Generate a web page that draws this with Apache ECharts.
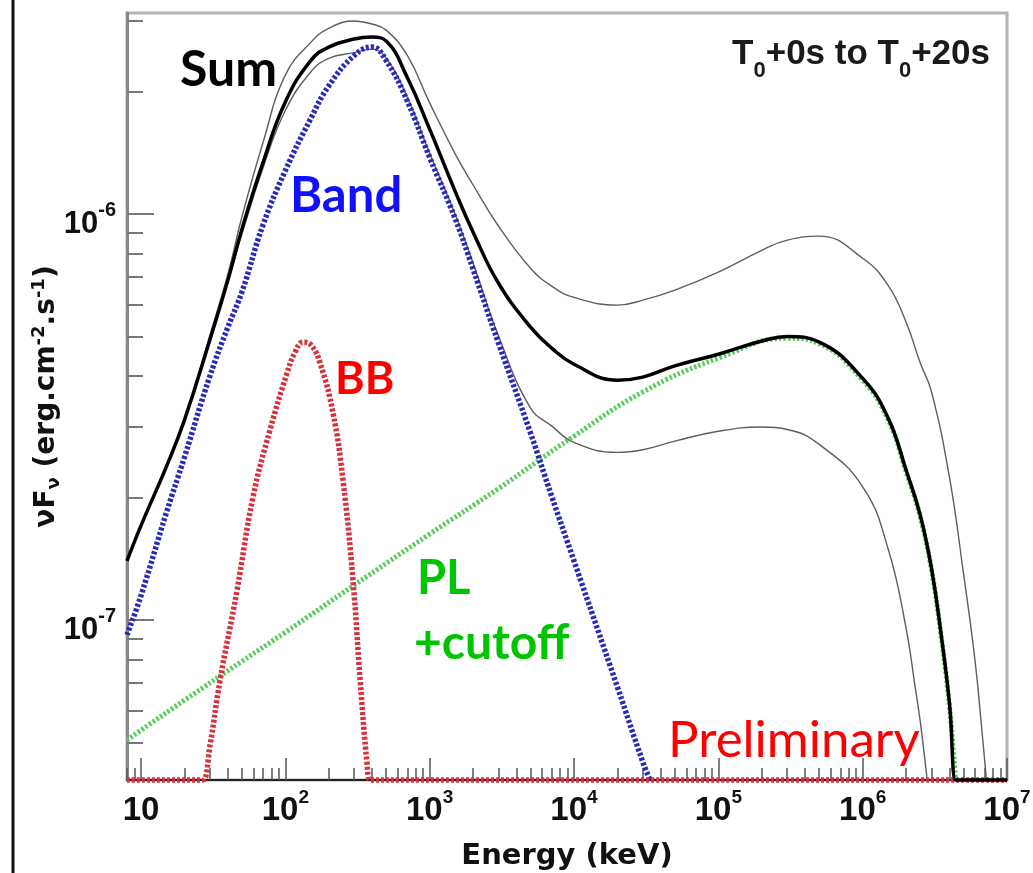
<!DOCTYPE html>
<html>
<head>
<meta charset="utf-8">
<title>Spectrum T0+0s to T0+20s</title>
<script src="https://cdn.jsdelivr.net/npm/echarts@6.0.0/dist/echarts.min.js"></script>
<style>
  html, body { margin: 0; padding: 0; background: #fff; }
  #chart { width: 1033px; height: 873px; }
</style>
</head>
<body>
<div id="chart"></div>
<script>
// axis range (keV / erg cm-2 s-1)
var X_MIN = 8;
var X_MAX = 1e7;
var FLOOR = 4.04e-8;   // bottom of the y axis, curves below it sit on the axis
var Y_MAX = 3.13e-6;

var xMajor = [10, 1e2, 1e3, 1e4, 1e5, 1e6, 1e7];
var yMajor = [1e-7, 1e-6];
var minorSteps = [2, 3, 4, 5, 6, 7, 8, 9];
var xDecades = [1, 10, 1e2, 1e3, 1e4, 1e5, 1e6];
var yDecades = [1e-8, 1e-7, 1e-6];

// total model (thick black)
var sumE = [8, 10, 15, 20, 30, 40, 50, 70, 100, 150, 200, 300, 400, 500, 700,
  1000, 1500, 2000, 3000, 5000, 7000, 1e4, 2e4, 3e4, 5e4, 1e5, 2e5, 3e5, 5e5,
  1e6, 1.5e6, 2e6, 2.5e6, 3e6, 3.5e6, 4e6, 4.4e6, 4.6e6, 1e7];
var sumF = [1.40e-7, 1.71e-7, 2.39e-7, 3.11e-7, 4.90e-7, 6.88e-7, 9.18e-7, 1.34e-6,
  1.89e-6, 2.39e-6, 2.58e-6, 2.70e-6, 2.73e-6, 2.67e-6, 2.17e-6,
  1.62e-6, 1.14e-6, 9.03e-7, 6.76e-7, 5.27e-7, 4.68e-7, 4.27e-7, 3.90e-7, 3.97e-7, 4.23e-7,
  4.52e-7, 4.87e-7, 5.00e-7, 4.84e-7,
  3.94e-7, 3.15e-7, 2.34e-7, 1.82e-7, 1.34e-7, 9.2e-8, 6.2e-8, FLOOR, FLOOR, FLOOR];

// upper and lower envelope (thin)
var upperE = [8, 10, 15, 20, 30, 40, 50, 70, 100, 150, 200, 300, 400, 500, 700,
  1000, 1500, 2000, 3000, 5000, 7000, 1e4, 2e4, 3e4, 5e4, 1e5, 2e5, 3e5, 5e5,
  1e6, 1.5e6, 2e6, 2.5e6, 3e6, 4e6, 5e6, 6e6, 6.8e6, 7.2e6];
var upperF = [1.40e-7, 1.71e-7, 2.39e-7, 3.11e-7, 5.03e-7, 7.12e-7, 9.84e-7, 1.50e-6,
  2.20e-6, 2.65e-6, 2.87e-6, 2.99e-6, 2.94e-6, 2.84e-6, 2.46e-6,
  1.88e-6, 1.41e-6, 1.18e-6, 9.34e-7, 7.36e-7, 6.65e-7, 6.24e-7, 5.97e-7, 6.14e-7, 6.50e-7,
  7.20e-7, 8.15e-7, 8.63e-7, 8.83e-7,
  7.79e-7, 6.68e-7, 5.42e-7, 4.31e-7, 3.65e-7, 2.24e-7, 1.30e-7, 7.97e-8, 5.06e-8, FLOOR];

var lowerE = [8, 10, 15, 20, 30, 40, 50, 70, 100, 150, 200, 300, 400, 500, 700,
  1000, 1500, 2000, 3000, 5000, 7000, 1e4, 2e4, 3e4, 5e4, 1e5, 2e5, 3e5, 5e5,
  1e6, 1.5e6, 2e6, 2.3e6, 2.5e6, 2.65e6, 2.8e6];
var lowerF = [1.40e-7, 1.71e-7, 2.39e-7, 3.11e-7, 4.88e-7, 6.80e-7, 8.93e-7, 1.30e-6,
  1.80e-6, 2.24e-6, 2.42e-6, 2.50e-6, 2.55e-6, 2.42e-6, 1.94e-6,
  1.41e-6, 1.00e-6, 7.57e-7, 5.01e-7, 3.33e-7, 3.01e-7, 2.74e-7, 2.59e-7, 2.63e-7, 2.76e-7,
  2.92e-7, 2.99e-7, 2.95e-7, 2.71e-7,
  2.13e-7, 1.50e-7, 9.55e-8, 6.92e-8, 5.67e-8, 4.79e-8, FLOOR];

// Band component (blue dotted)
var bandE = [8, 10, 15, 20, 30, 40, 50, 70, 100, 150, 200, 300, 400, 500, 700,
  1000, 1500, 2000, 3000, 5000, 7000, 1e4, 2e4, 3e4, 3.37e4];
var bandF = [9.2e-8, 1.15e-7, 1.84e-7, 2.52e-7, 3.99e-7, 5.27e-7, 6.43e-7, 9.4e-7,
  1.28e-6, 1.72e-6, 2.07e-6, 2.46e-6, 2.58e-6, 2.39e-6, 1.90e-6,
  1.38e-6, 9.77e-7, 7.32e-7, 4.81e-7, 2.89e-7, 2.02e-7, 1.40e-7, 6.84e-8, 4.47e-8, FLOOR];

// black body (red dotted)
var bbE = [8, 25, 26.9, 30.1, 35.3, 46.2, 59.7, 78.3, 102.8, 116.7, 132.8, 150.7,
  174, 214, 251, 294, 330, 368, 386, 410, 1e7];
var bbF = [FLOOR, FLOOR, FLOOR, 4.92e-8, 7.11e-8, 1.18e-7, 2.01e-7, 2.94e-7, 4.06e-7,
  4.57e-7, 4.84e-7, 4.76e-7, 4.30e-7, 3.24e-7, 2.21e-7, 1.26e-7, 7.11e-8, 4.45e-8,
  FLOOR, FLOOR, FLOOR];

// power law with cutoff (green dotted)
var plE = [8, 10, 20, 50, 100, 300, 1000, 3000, 1e4, 3e4, 1e5, 3e5, 5e5,
  1e6, 1.5e6, 2e6, 2.5e6, 3e6, 3.5e6, 4e6, 4.4e6];
var plF = [5.06e-8, 5.36e-8, 6.35e-8, 7.92e-8, 9.34e-8, 1.22e-7, 1.63e-7, 2.11e-7,
  2.84e-7, 3.65e-7, 4.42e-7, 4.95e-7, 4.80e-7,
  3.90e-7, 3.12e-7, 2.32e-7, 1.80e-7, 1.33e-7, 9.1e-8, 6.1e-8, FLOOR];

function pairs(xs, ys) {
  return xs.map(function (x, i) { return [x, ys[i]]; });
}

function minorTicks(decades, lo, hi) {
  var out = [];
  decades.forEach(function (d) {
    minorSteps.forEach(function (m) {
      var v = m * d;
      if (v >= lo && v <= hi) out.push(v);
    });
  });
  return out;
}

var xMinor = minorTicks(xDecades, X_MIN, X_MAX);
var yMinor = minorTicks(yDecades, FLOOR, Y_MAX);

function expOf(v) {
  return Math.round(Math.log(v) / Math.LN10);
}

var labelFont = 'Liberation Sans';
var nameFont = 'DejaVu Sans';
var annFont = 'Lato';

var chart = echarts.init(document.getElementById('chart'), null, { renderer: 'canvas' });

function curve(name, data, color, width, dash, z) {
  return {
    name: name,
    type: 'line',
    data: data,
    symbol: 'none',
    smooth: 0.45,
    clip: false,
    z: z,
    lineStyle: { color: color, width: width, type: dash || 'solid' },
    emphasis: { disabled: true }
  };
}

chart.setOption({
  animation: false,
  backgroundColor: '#fff',
  grid: {
    left: 127, right: 26, top: 13, bottom: 93,
    containLabel: false,
    outerBoundsMode: 'none',
    show: true,
    borderColor: '#b4b4b4',
    borderWidth: 3
  },
  xAxis: [
    {
      type: 'log', logBase: 10, min: X_MIN, max: X_MAX, position: 'bottom',
      axisLine: { show: true, onZero: false, lineStyle: { color: '#222', width: 2 } },
      axisTick: { show: true, inside: true, length: 22, customValues: xMajor,
        lineStyle: { color: '#555', width: 1.5 } },
      minorTick: { show: false },
      splitLine: { show: false },
      axisLabel: {
        customValues: xMajor, margin: 14, showMinLabel: true, showMaxLabel: true,
        formatter: function (v) {
          var n = expOf(v);
          return n === 1 ? '{p|10}' : '{b|10}{sup|' + n + '}';
        },
        rich: {
          b: { fontFamily: labelFont, fontWeight: 'bold', fontSize: 33, lineHeight: 33, color: '#111' },
          sup: { fontFamily: labelFont, fontWeight: 'bold', fontSize: 19, lineHeight: 19,
            padding: [0, 0, 26, 0], color: '#111' },
          p: { fontFamily: labelFont, fontWeight: 'bold', fontSize: 33, lineHeight: 33,
            padding: [6, 0, 6, 0], color: '#111' }
        }
      },
      name: 'Energy (keV)',
      nameLocation: 'middle',
      nameGap: 62,
      nameMoveOverlap: false,
      nameTextStyle: { fontFamily: nameFont, fontWeight: 'bold', fontSize: 29, lineHeight: 29, color: '#111' }
    },
    {
      type: 'log', logBase: 10, min: X_MIN, max: X_MAX, position: 'bottom',
      axisLine: { show: false },
      axisTick: { show: true, inside: true, length: 12, customValues: xMinor,
        lineStyle: { color: '#555', width: 1.5 } },
      axisLabel: { show: false },
      splitLine: { show: false }
    }
  ],
  yAxis: [
    {
      type: 'log', logBase: 10, min: FLOOR, max: Y_MAX, position: 'left',
      axisLine: { show: true, onZero: false, lineStyle: { color: '#888', width: 3 } },
      axisTick: { show: true, inside: true, length: 27, customValues: yMajor,
        lineStyle: { color: '#777', width: 2 } },
      minorTick: { show: false },
      splitLine: { show: false },
      axisLabel: {
        customValues: yMajor, margin: 11,
        formatter: function (v) { return '{b|10}{sup|' + expOf(v) + '}'; },
        rich: {
          b: { fontFamily: labelFont, fontWeight: 'bold', fontSize: 31, lineHeight: 31,
            padding: [20, 0, 0, 0], color: '#111' },
          sup: { fontFamily: labelFont, fontWeight: 'bold', fontSize: 20, lineHeight: 20,
            padding: [0, 0, 7, 0], color: '#111' }
        }
      },
      name: '{m|\u03bdF}{sub|\u03bd}{m| (erg.cm}{sup|-2}{m|.s}{sup|-1}{m|)}',
      nameLocation: 'middle',
      nameRotate: 90,
      nameGap: 66,
      nameMoveOverlap: false,
      nameTextStyle: {
        rich: {
          m: { fontFamily: nameFont, fontWeight: 'bold', fontSize: 28, lineHeight: 28, color: '#111' },
          sub: { fontFamily: nameFont, fontWeight: 'bold', fontSize: 18, lineHeight: 18,
            padding: [14, 0, 0, 0], color: '#111' },
          sup: { fontFamily: nameFont, fontWeight: 'bold', fontSize: 18, lineHeight: 18,
            padding: [0, 0, 16, 0], color: '#111' }
        }
      }
    },
    {
      type: 'log', logBase: 10, min: FLOOR, max: Y_MAX, position: 'left',
      axisLine: { show: false },
      axisTick: { show: true, inside: true, length: 16, customValues: yMinor,
        lineStyle: { color: '#777', width: 2 } },
      axisLabel: { show: false },
      splitLine: { show: false }
    }
  ],
  series: [
    curve('upper', pairs(upperE, upperF), '#5e5e5e', 1.4, null, 2),
    curve('lower', pairs(lowerE, lowerF), '#5e5e5e', 1.4, null, 2),
    curve('PL+cutoff', pairs(plE, plF), '#5fcc5f', 5, [2.5, 2], 3),
    curve('Band', pairs(bandE, bandF), '#2a2ab8', 5.5, [3, 2], 3),
    curve('BB', pairs(bbE, bbF), '#d8303c', 5.5, [3, 2], 3),
    curve('Sum', pairs(sumE, sumF), '#000', 3.5, null, 5)
  ],
  graphic: [
    // edge of the neighbouring panel in the original figure
    { type: 'line', z: 1, shape: { x1: 13, y1: 0, x2: 13, y2: 873 },
      style: { stroke: '#111', lineWidth: 3 } },
    { type: 'text', z: 10, x: 180, y: 70,
      style: { text: 'Sum', fontFamily: annFont, fontWeight: 'bold', fontSize: 50, fill: '#000',
        textAlign: 'left', textVerticalAlign: 'middle' } },
    { type: 'text', z: 10, x: 290, y: 196,
      style: { text: 'Band', fontFamily: annFont, fontWeight: 'bold', fontSize: 49, fill: '#1010ff',
        textAlign: 'left', textVerticalAlign: 'middle' } },
    { type: 'text', z: 10, x: 335, y: 379,
      style: { text: 'BB', fontFamily: annFont, fontWeight: 'bold', fontSize: 45, fill: '#ff0000',
        textAlign: 'left', textVerticalAlign: 'middle' } },
    { type: 'text', z: 10, x: 417, y: 579,
      style: { text: 'PL', fontFamily: annFont, fontWeight: 'bold', fontSize: 47, fill: '#00c400',
        textAlign: 'left', textVerticalAlign: 'middle' } },
    { type: 'text', z: 10, x: 414, y: 644,
      style: { text: '+cutoff', fontFamily: annFont, fontWeight: 'bold', fontSize: 48, fill: '#00c400',
        textAlign: 'left', textVerticalAlign: 'middle' } },
    { type: 'text', z: 10, x: 668, y: 741,
      style: { text: 'Preliminary', fontFamily: annFont, fontWeight: 'normal', fontSize: 51, fill: '#ff0000',
        textAlign: 'left', textVerticalAlign: 'middle' } },
    { type: 'text', z: 10, x: 990, y: 54,
      style: {
        text: '{a|T}{s|0}{a|+0s to T}{s|0}{a|+20s}',
        textAlign: 'right', textVerticalAlign: 'middle',
        rich: {
          a: { fontFamily: labelFont, fontWeight: 'bold', fontSize: 35, lineHeight: 35, fill: '#1a1a1a' },
          s: { fontFamily: labelFont, fontWeight: 'bold', fontSize: 22, lineHeight: 22,
            padding: [33, 0, 0, 0], fill: '#1a1a1a' }
        }
      } }
  ]
});
</script>
</body>
</html>
